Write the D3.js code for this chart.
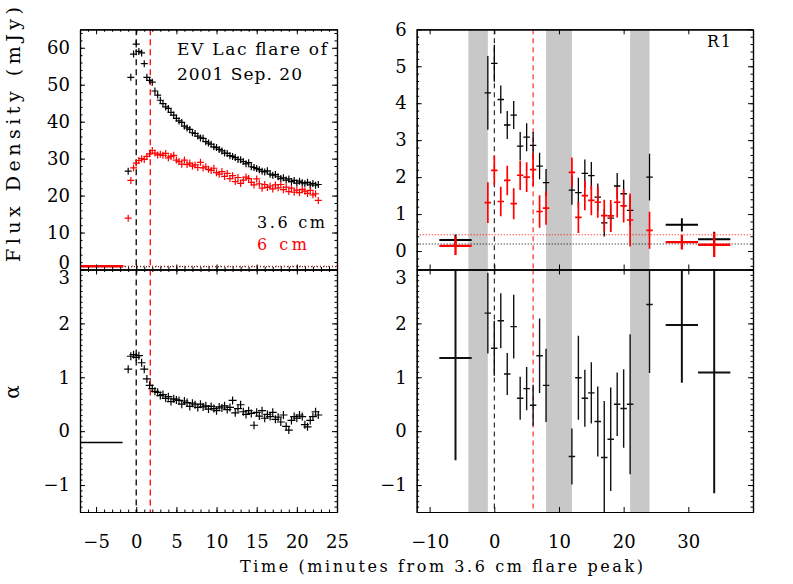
<!DOCTYPE html>
<html>
<head>
<meta charset="utf-8">
<script src="https://cdnjs.cloudflare.com/ajax/libs/d3/7.8.5/d3.min.js"></script>
<style>
body { margin: 0; background: #fff; }
svg { display: block; font-family: "DejaVu Serif", serif; }
</style>
</head>
<body>
<script>
// ---- left panels: EV Lac light curve (minutes from 3.6 cm peak)
var lcTime = [-1.00, -0.67, -0.33, 0.00, 0.33, 0.67, 1.00, 1.33, 1.67, 2.00, 2.33, 2.67,
  3.00, 3.33, 3.67, 4.00, 4.33, 4.67, 5.00, 5.33, 5.67, 6.00, 6.33, 6.67,
  7.00, 7.33, 7.67, 8.00, 8.33, 8.67, 9.00, 9.33, 9.67, 10.00, 10.33, 10.67,
  11.00, 11.33, 11.67, 12.00, 12.33, 12.67, 13.00, 13.33, 13.67, 14.00, 14.33, 14.67,
  15.00, 15.33, 15.67, 16.00, 16.33, 16.67, 17.00, 17.33, 17.67, 18.00, 18.33, 18.67,
  19.00, 19.33, 19.67, 20.00, 20.33, 20.67, 21.00, 21.33, 21.67, 22.00, 22.33, 22.67];
var flux36 = [26.6, 52.0, 58.3, 61.0, 59.0, 58.6, 55.7, 52.0, 51.2, 50.7, 48.3, 47.2,
  45.8, 44.9, 44.0, 43.6, 42.5, 41.8, 40.9, 40.2, 39.8, 38.8, 38.3, 37.9,
  37.0, 36.8, 36.1, 35.6, 35.5, 34.6, 34.2, 33.9, 33.2, 33.0, 32.5, 32.1,
  31.5, 31.4, 30.8, 30.6, 30.3, 29.8, 29.7, 29.2, 28.6, 28.9, 27.8, 27.6,
  27.3, 27.0, 26.6, 26.4, 26.7, 25.8, 25.5, 25.7, 25.1, 24.6, 24.8, 24.2,
  24.5, 23.8, 24.1, 23.4, 23.9, 23.5, 23.2, 23.6, 22.9, 23.3, 22.8, 23.0];
var flux6 = [13.9, 24.1, 27.5, 28.8, 29.5, 30.0, 29.8, 30.6, 31.3, 32.2, 31.5, 31.0,
  31.2, 30.9, 31.4, 30.2, 30.6, 30.9, 29.6, 29.2, 28.5, 29.6, 28.4, 28.8,
  28.0, 28.3, 27.6, 29.0, 27.5, 27.8, 27.1, 26.8, 27.4, 26.2, 25.8, 26.5,
  25.2, 26.0, 24.6, 25.4, 23.8, 24.9, 23.3, 24.2, 25.0, 24.6, 23.6, 22.9,
  24.5, 23.2, 22.0, 23.0, 22.2, 22.6, 21.8, 22.9, 22.1, 23.0, 21.6, 22.3,
  21.1, 22.0, 20.9, 21.5, 20.8, 21.7, 21.2, 20.6, 21.4, 20.2, 20.5, 18.7];
var alphaLc = [1.15, 1.39, 1.42, 1.37, 1.40, 1.27, 1.15, 0.97, 0.85, 0.79, 0.74, 0.72,
  0.66, 0.68, 0.61, 0.64, 0.55, 0.60, 0.58, 0.57, 0.50, 0.56, 0.53, 0.46,
  0.52, 0.49, 0.44, 0.50, 0.45, 0.47, 0.41, 0.46, 0.42, 0.38, 0.45, 0.43,
  0.47, 0.40, 0.44, 0.57, 0.34, 0.42, 0.49, 0.36, 0.31, 0.38, 0.33, 0.11,
  0.35, 0.28, 0.38, 0.24, 0.31, 0.27, 0.35, 0.22, 0.26, 0.17, 0.30, 0.09,
  0.02, 0.20, 0.27, 0.24, 0.30, 0.27, 0.12, 0.08, 0.20, 0.27, 0.36, 0.30];

// pre-flare averages and reference times
var preSpan = [-7, -1.6];
var preFlux6 = 0.87;
var preAlpha = -0.21;
var quietFlux36 = 0.75, quietFlux6 = 0.9;
var peak36 = 0, peak6 = 1.75;

// ---- right panels: region R1
var r1Time = [-6, -1, 0, 1, 2, 3, 4, 5, 6, 7, 8, 12, 13, 14, 15, 16, 17, 18, 19, 20, 21, 24, 29, 34];
var r1HalfBin = [2.5, 0.5, 0.5, 0.5, 0.5, 0.5, 0.5, 0.5, 0.5, 0.5, 0.5, 0.5, 0.5, 0.5, 0.5, 0.5, 0.5, 0.5, 0.5, 0.5, 0.5, 0.5, 2.5, 2.5];
var r1Flux36 = [0.30, 4.28, 5.08, 4.10, 3.41, 3.68, 2.84, 3.08, 2.86, 2.30, 1.85, 1.65, 1.58, 2.10, 2.04, 1.46, 0.76, 0.89, 1.76, 1.55, 1.10, 2.00, 0.71, 0.32];
var r1Err36 = [0.15, 1.00, 0.50, 0.38, 0.38, 0.38, 0.38, 0.38, 0.36, 0.36, 0.37, 0.40, 0.40, 0.38, 0.37, 0.37, 0.37, 0.37, 0.35, 0.38, 0.40, 0.63, 0.18, 0.20];
var r1Flux6 = [0.14, 1.31, 2.18, 1.34, 1.91, 1.28, 2.05, 2.00, 2.20, 1.07, 1.16, 2.13, 0.91, 1.50, 1.37, 1.32, 0.96, 0.95, 1.32, 1.22, 0.84, 0.56, 0.24, 0.17];
var r1Err6 = [0.25, 0.55, 0.40, 0.40, 0.40, 0.42, 0.40, 0.40, 0.45, 0.44, 0.45, 0.40, 0.42, 0.40, 0.40, 0.42, 0.43, 0.43, 0.41, 0.45, 0.72, 0.50, 0.20, 0.33];
var r1Alpha = [1.36, 2.19, 1.54, 2.05, 1.06, 1.94, 0.61, 0.79, 0.48, 1.40, 0.85, -0.47, 0.99, 0.61, 0.71, 0.18, -0.49, -0.15, 0.50, 0.42, 0.50, 2.35, 1.97, 1.09];
var r1AlphaErr = [1.90, 0.75, 0.51, 0.51, 0.39, 0.59, 0.40, 0.40, 0.38, 0.69, 0.68, 0.52, 0.78, 0.53, 0.57, 0.65, 1.05, 0.96, 0.59, 0.73, 1.30, 1.27, 1.07, 2.24];
var gapBands = [[-4, -1], [8, 12], [21, 24]];
var r1Quiet36 = 0.19, r1Quiet6 = 0.44;
var r1Peak36 = 0, r1Peak6 = 6;

// tick labels
var leftXTicks = [-5, 0, 5, 10, 15, 20, 25];
var rightXTicks = [-10, 0, 10, 20, 30];
var fluxTicks = [0, 10, 20, 30, 40, 50, 60];
var r1FluxTicks = [0, 1, 2, 3, 4, 5, 6];
var alphaTicks = [-1, 0, 1, 2, 3];

var W = 793, H = 584;
var svg = d3.select("body").append("svg").attr("width", W).attr("height", H);
var clipCount = 0;

// one framed panel with its own scales and clip
function panel(box, xDom, yDom) {
  var p = {box: box};
  p.x = d3.scaleLinear().domain(xDom).range([box.l, box.r]);
  p.y = d3.scaleLinear().domain(yDom).range([box.b, box.t]);
  var id = "clip" + (clipCount++);
  svg.append("clipPath").attr("id", id).append("rect")
      .attr("x", box.l).attr("y", box.t)
      .attr("width", box.r - box.l).attr("height", box.b - box.t);
  p.g = svg.append("g").attr("clip-path", "url(#" + id + ")");
  return p;
}

// IDL style axes: inward ticks on all four sides
function axes(p, o) {
  var b = p.box;
  var fmt = d3.format("d");
  function side(axisFn, scale, tx, ty, vals, size, labels, pad, nudge) {
    var ax = axisFn(scale).tickValues(vals).tickSizeInner(-size).tickSizeOuter(0)
        .tickPadding(pad).tickFormat(labels ? fmt : "");
    var g = svg.append("g").attr("transform", "translate(" + tx + "," + ty + ")").call(ax);
    g.attr("font-family", null).attr("font-size", 18);
    g.selectAll("text").attr("fill", "#000");
    g.selectAll("line").attr("stroke", "#000").attr("stroke-width", 1);
    g.select(".domain").attr("stroke", "#000").attr("stroke-width", 1.2);
    if (nudge) {
      g.selectAll(".tick").filter(function(d) { return nudge[d] !== undefined; })
        .select("text").attr("y", function(d) { return nudge[d]; });
    }
  }
  side(d3.axisBottom, p.x, 0, b.b, o.xMinor, 2.5, false, 0);
  side(d3.axisBottom, p.x, 0, b.b, o.xMajor, 5, o.labelX, 23);
  side(d3.axisTop, p.x, 0, b.t, o.xMinor, 2.5, false, 0);
  side(d3.axisTop, p.x, 0, b.t, o.xMajor, 5, false, 0);
  side(d3.axisLeft, p.y, b.l, 0, o.yMinor, 2.5, false, 0);
  side(d3.axisLeft, p.y, b.l, 0, o.yMajor, 5, true, 10, o.nudge);
  side(d3.axisRight, p.y, b.r, 0, o.yMinor, 2.5, false, 0);
  side(d3.axisRight, p.y, b.r, 0, o.yMajor, 5, false, 0);
}

function vline(p, xv, color, dash, width) {
  p.g.append("line")
      .attr("x1", p.x(xv)).attr("x2", p.x(xv))
      .attr("y1", p.box.t).attr("y2", p.box.b)
      .attr("stroke", color).attr("stroke-width", width).attr("stroke-dasharray", dash);
}
function hline(p, yv, color, dash, width) {
  p.g.append("line")
      .attr("x1", p.box.l).attr("x2", p.box.r)
      .attr("y1", p.y(yv)).attr("y2", p.y(yv))
      .attr("stroke", color).attr("stroke-width", width).attr("stroke-dasharray", dash);
}
function plus(p, xs, ys, color, arm, width) {
  p.g.append("g").selectAll("path")
      .data(xs.map(function(d, i) { return [d, ys[i]]; }))
    .enter().append("path")
      .attr("d", function(d) {
        var cx = p.x(d[0]), cy = p.y(d[1]);
        return "M" + (cx - arm) + "," + cy + "H" + (cx + arm) + "M" + cx + "," + (cy - arm) + "V" + (cy + arm);
      })
      .attr("fill", "none").attr("stroke", color).attr("stroke-width", width);
}
function errbars(p, xs, hw, ys, es, color, width) {
  p.g.append("g").selectAll("path")
      .data(xs.map(function(d, i) { return {x: d, w: hw[i], y: ys[i], e: es[i]}; }))
    .enter().append("path")
      .attr("d", function(d) {
        return "M" + p.x(d.x - d.w) + "," + p.y(d.y) + "H" + p.x(d.x + d.w) +
               "M" + p.x(d.x) + "," + p.y(d.y - d.e) + "V" + p.y(d.y + d.e);
      })
      .attr("fill", "none").attr("stroke", color)
      .attr("stroke-width", function(d) { return d.w > 1 ? width + 0.6 : width; });
}
function segment(p, xr, yv, color, width) {
  p.g.append("line")
      .attr("x1", p.x(xr[0])).attr("x2", p.x(xr[1]))
      .attr("y1", p.y(yv)).attr("y2", p.y(yv))
      .attr("stroke", color).attr("stroke-width", width);
}

// ---- left top: flux density
var lt = panel({l: 80, r: 337, t: 29.3, b: 269.5}, [-7, 25], [0, 65]);
hline(lt, quietFlux36, "#000", "1,2", 1);
hline(lt, quietFlux6, "#ff0000", "1,3", 1);
segment(lt, preSpan, preFlux6, "#ff0000", 2.5);
vline(lt, peak36, "#000", "6,4", 1.3);
vline(lt, peak6, "#ff0000", "6,4", 1.3);
plus(lt, lcTime, flux36, "#000", 3.5, 1.2);
plus(lt, lcTime, flux6, "#ff0000", 3.5, 1.2);
axes(lt, {xMajor: leftXTicks, xMinor: d3.range(-7, 26, 1), labelX: false,
          yMajor: fluxTicks, yMinor: d3.range(0, 65, 2), nudge: {0: -7}});

// ---- left bottom: spectral index
var lb = panel({l: 80, r: 337, t: 269.5, b: 512}, [-7, 25], [-1.5, 3]);
segment(lb, [-7, -1.7], preAlpha, "#000", 1.3);
vline(lb, peak36, "#000", "6,4", 1.3);
vline(lb, peak6, "#ff0000", "6,4", 1.3);
plus(lb, lcTime, alphaLc, "#000", 4, 1.2);
axes(lb, {xMajor: leftXTicks, xMinor: d3.range(-7, 26, 1), labelX: true,
          yMajor: alphaTicks, yMinor: d3.range(-1.5, 3.01, 0.1), nudge: {3: 8}});

// ---- right top: R1 flux
var rt = panel({l: 416.7, r: 753, t: 29.3, b: 269.5}, [-12, 40], [-0.5, 6]);
var rb = panel({l: 416.7, r: 753, t: 269.5, b: 512}, [-12, 40], [-1.5, 3]);
[rt, rb].forEach(function(p) {
  p.g.selectAll("rect.gap").data(gapBands).enter().append("rect")
      .attr("class", "gap")
      .attr("x", function(d) { return p.x(d[0]); })
      .attr("width", function(d) { return p.x(d[1]) - p.x(d[0]); })
      .attr("y", p.box.t).attr("height", p.box.b - p.box.t)
      .attr("fill", "#c8c8c8");
  vline(p, r1Peak36, "#000", "5,4", 1);
  vline(p, r1Peak6, "#ff0000", "5,4", 1);
});
hline(rt, r1Quiet6, "#ff0000", "1,2", 1.2);
hline(rt, r1Quiet36, "#000", "1,2", 1.2);
errbars(rt, r1Time, r1HalfBin, r1Flux36, r1Err36, "#000", 1.3);
errbars(rt, r1Time, r1HalfBin, r1Flux6, r1Err6, "#ff0000", 1.7);
axes(rt, {xMajor: rightXTicks, xMinor: [], labelX: false,
          yMajor: r1FluxTicks, yMinor: d3.range(-0.4, 6.01, 0.2)});

// ---- right bottom: R1 spectral index
errbars(rb, r1Time, r1HalfBin, r1Alpha, r1AlphaErr, "#111", 1.4);
axes(rb, {xMajor: rightXTicks, xMinor: [], labelX: true,
          yMajor: alphaTicks, yMinor: d3.range(-1.5, 3.01, 0.1), nudge: {3: 8}});

// ---- texts
function label(txt, x, y, size, len, color) {
  return svg.append("text").attr("x", x).attr("y", y)
      .attr("font-size", size).attr("fill", color || "#000")
      .attr("textLength", len).attr("lengthAdjust", "spacing")
      .text(txt);
}
label("EV Lac flare of", 177, 55, 17, 150);
label("2001 Sep. 20", 177, 80, 17, 125);
label("3.6 cm", 257, 228, 16, 68);
label("6 cm", 257, 250, 16, 50, "#ff0000");
label("R1", 707, 47, 16, 24);
label("Time (minutes from 3.6 cm flare peak)", 240, 572, 16, 403);

svg.append("text")
    .attr("transform", "translate(20,262)rotate(-90)")
    .attr("font-size", 19)
    .attr("textLength", 255).attr("lengthAdjust", "spacing")
    .text("Flux Density (mJy)");
svg.append("text")
    .attr("transform", "translate(13,392)rotate(-90)")
    .attr("text-anchor", "middle").attr("dy", "0.32em")
    .attr("font-size", 20)
    .text("α");
</script>
</body>
</html>
